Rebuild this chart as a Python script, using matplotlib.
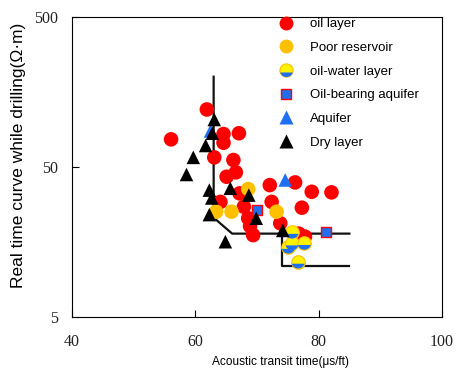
import matplotlib.pyplot as plt
import numpy as np
from matplotlib.path import Path
from matplotlib.lines import Line2D

# acoustic transit time (us/ft) vs resistivity while drilling (ohm*m)
oil_x = [56.1, 61.9, 64.6, 67.1, 64.6, 63.1, 66.2, 66.6, 65.1, 64.1, 67.2, 67.9,
         68.6, 68.9, 69.4, 72.1, 72.4, 73.8, 76.2, 78.9, 82.1, 77.3, 77.8, 76.8]
oil_y = [76.5, 121, 83, 84, 72.6, 58, 55.7, 46.1, 43.1, 29.3, 33.4, 27.2,
         22.8, 20.2, 17.6, 37.9, 29.3, 21.1, 39.5, 34.2, 33.9, 26.8, 17.2, 18.0]

poor_x = [63.4, 65.9, 68.6, 73.2]
poor_y = [25.2, 25.2, 35.7, 25.2]

oilwater_x = [75.7, 75.1, 75.7, 77.7, 76.7]
oilwater_y = [18.5, 14.7, 15.5, 15.6, 11.7]

oil_aquifer_x = [70.1, 81.2]
oil_aquifer_y = [25.8, 18.4]

aquifer_x = [74.6, 62.5]
aquifer_y = [41, 87]

dry_x = [63.1, 62.8, 61.7, 59.7, 58.6, 62.3, 62.7, 65.7, 68.7, 62.3, 69.9, 64.9, 74.2]
dry_y = [103.7, 84, 69.6, 58, 44.6, 35.1, 31.1, 36.1, 32.5, 24.1, 22.8, 15.9, 18.9]

# cut-off lines
cut1_x = [63, 63, 66, 85]
cut1_y = [200, 23, 18, 18]
cut2_x = [74, 74, 85]
cut2_y = [20, 11, 11]

RED = '#FF0000'
ORANGE = '#FFC000'
YELLOW = '#FFF200'
BLUE = '#1F6FF0'

# lower part of a circle, used for the blue band of the oil-water marker
arc = Path.arc(197.5, 342.5)
band_verts = np.vstack([arc.vertices, arc.vertices[:1]])
band_codes = list(arc.codes) + [Path.CLOSEPOLY]
band = Path(band_verts, band_codes)

fig = plt.figure(figsize=(4.57, 3.70), dpi=100)
ax = fig.add_axes([0.157, 0.143, 0.810, 0.811])

ax.plot(cut1_x, cut1_y, color='#111111', lw=1.6, zorder=1)
ax.plot(cut2_x, cut2_y, color='#111111', lw=1.6, zorder=1)

ax.scatter(oil_x, oil_y, s=110, color=RED, edgecolors='none', zorder=2)
ax.scatter(poor_x, poor_y, s=110, color=ORANGE, edgecolors='none', zorder=3)
ax.scatter(oilwater_x, oilwater_y, s=95, color=YELLOW, edgecolors=ORANGE,
           linewidths=0.8, zorder=4)
ax.scatter(oilwater_x, oilwater_y, s=95, marker=band, color=BLUE,
           edgecolors='none', zorder=4)
ax.scatter(oil_aquifer_x, oil_aquifer_y, s=60, marker='s', color=BLUE,
           edgecolors=RED, linewidths=1.0, zorder=5)
ax.scatter(aquifer_x, aquifer_y, s=95, marker='^', color=BLUE,
           edgecolors='none', zorder=5)
ax.scatter(dry_x, dry_y, s=95, marker='^', color='black',
           edgecolors='none', zorder=6)

ax.set_yscale('log')
ax.set_xlim(40, 100)
ax.set_ylim(5, 500)
ax.set_xticks([40, 60, 80, 100])
ax.set_yticks([5, 50, 500])
ax.set_yticklabels(['5', '50', '500'])
ax.yaxis.set_minor_locator(plt.NullLocator())
ax.tick_params(direction='in', length=5, width=0.8, top=False, right=False)
ax.tick_params(axis='x', pad=12)
ax.tick_params(axis='y', pad=10)
for lab in ax.get_xticklabels() + ax.get_yticklabels():
    lab.set_fontfamily('Liberation Serif')
    lab.set_fontsize(11.5)
    lab.set_color('#222222')
for sp in ax.spines.values():
    sp.set_linewidth(0.8)

ax.set_xlabel('Acoustic transit time(μs/ft)', fontsize=8.6, family='Liberation Sans')
ax.set_ylabel('Real time curve while drilling(Ω·m)', fontsize=12.5, family='Liberation Sans')
ax.xaxis.set_label_coords(0.565, -0.13)
ax.yaxis.set_label_coords(-0.123, 0.54)

handles = [
    Line2D([], [], ls='none', marker='o', ms=10, color=RED, mec='none'),
    Line2D([], [], ls='none', marker='o', ms=10, color=ORANGE, mec='none'),
    (Line2D([], [], ls='none', marker='o', ms=9.5, color=YELLOW, mec=ORANGE, mew=0.8),
     Line2D([], [], ls='none', marker=band, ms=9.5, color=BLUE, mec='none')),
    Line2D([], [], ls='none', marker='s', ms=7.5, color=BLUE, mec=RED, mew=1.0),
    Line2D([], [], ls='none', marker='^', ms=10, color=BLUE, mec='none'),
    Line2D([], [], ls='none', marker='^', ms=10, color='black', mec='none'),
]
labels = ['oil layer', 'Poor reservoir', 'oil-water layer',
          'Oil-bearing aquifer', 'Aquifer', 'Dry layer']
ax.legend(handles, labels, loc='upper left', bbox_to_anchor=(0.561, 0.997),
          frameon=False, prop={'family': 'Liberation Sans', 'size': 9.5},
          handlelength=1.0, handletextpad=1.3, labelspacing=0.87,
          borderpad=0, borderaxespad=0)

fig.savefig('out.png', dpi=100)
